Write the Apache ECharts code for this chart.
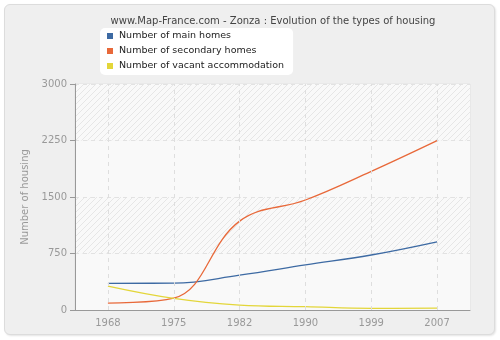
<!DOCTYPE html>
<html>
<head>
<meta charset="utf-8">
<script src="https://cdn.jsdelivr.net/npm/echarts@6/dist/echarts.min.js"></script>
<style>
html,body{margin:0;padding:0;background:#fff;}
#panel{position:absolute;left:4px;top:4px;width:489px;height:329px;background:#efefef;border:1px solid #dcdcdc;border-radius:6px;box-shadow:1px 1px 2px #e4e4e4;}
#c{position:absolute;left:0;top:0;width:500px;height:340px;}
</style>
</head>
<body>
<div id="panel"></div>
<div id="c"></div>
<script>
var titleText = 'www.Map-France.com - Zonza : Evolution of the types of housing';
var years = ['1968', '1975', '1982', '1990', '1999', '2007'];
var mainHomes = [354, 356, 462, 598, 730, 905];
var secondaryHomes = [92, 158, 1180, 1460, 1840, 2248];
var vacantHomes = [318, 155, 66, 44, 22, 24];
var yTicks = [0, 750, 1500, 2250, 3000];
var seriesNames = ['Number of main homes', 'Number of secondary homes', 'Number of vacant accommodation'];
var colors = ['#3d6aa3', '#e8693a', '#e3d63a'];

function hatch() {
  var cv = document.createElement('canvas');
  cv.width = 6; cv.height = 6;
  var ctx = cv.getContext('2d');
  ctx.fillStyle = '#f9f9f9';
  ctx.fillRect(0, 0, 6, 6);
  ctx.strokeStyle = '#e6e6e6';
  ctx.lineWidth = 1;
  ctx.beginPath();
  ctx.moveTo(-1, 7); ctx.lineTo(7, -1);
  ctx.moveTo(-1, 1); ctx.lineTo(1, -1);
  ctx.moveTo(5, 7); ctx.lineTo(7, 5);
  ctx.stroke();
  return cv;
}

var chart = echarts.init(document.getElementById('c'), null, {renderer: 'canvas'});
var font = 'DejaVu Sans';
chart.setOption({
  animation: false,
  backgroundColor: 'transparent',
  textStyle: {fontFamily: font},
  title: {
    text: titleText, left: 268, textAlign: 'center', top: 11,
    textStyle: {fontFamily: font, fontSize: 10, fontWeight: 'normal', color: '#444'}
  },
  legend: {
    orient: 'vertical', left: 100, top: 28,
    data: seriesNames,
    icon: 'rect', itemWidth: 6, itemHeight: 6, itemGap: 5,
    backgroundColor: '#fff', borderRadius: 5,
    padding: [3, 9, 4, 7],
    textStyle: {fontFamily: font, fontSize: 9.5, color: '#222', padding: [0, 0, 0, 1]}
  },
  grid: {left: 75, right: 30, top: 84, bottom: 30, show: true, borderColor: '#e2e2e2', borderWidth: 1, backgroundColor: 'transparent'},
  xAxis: {
    type: 'category', data: years, boundaryGap: true,
    axisLine: {lineStyle: {color: '#999'}},
    axisTick: {alignWithLabel: true, length: 5, lineStyle: {color: '#999'}},
    axisLabel: {color: '#999', fontFamily: font, fontSize: 10, margin: 8},
    splitLine: {show: false}
  },
  yAxis: {
    type: 'value', min: yTicks[0], max: yTicks[yTicks.length - 1], interval: yTicks[1] - yTicks[0],
    name: 'Number of housing', nameLocation: 'middle', nameGap: 44,
    nameTextStyle: {color: '#999', fontFamily: font, fontSize: 10},
    axisLine: {show: true, lineStyle: {color: '#999'}},
    axisTick: {show: true, length: 5, lineStyle: {color: '#999'}},
    axisLabel: {color: '#999', fontFamily: font, fontSize: 10, margin: 8, formatter: function (v) { return String(v); }},
    splitLine: {lineStyle: {color: '#e2e2e2', type: [4, 4], width: 1}},
    splitArea: {show: true, areaStyle: {color: ['#f9f9f9', {image: hatch(), repeat: 'repeat'}]}}
  },
  series: [
    {
      name: seriesNames[0], type: 'line', data: mainHomes, smooth: 0.4,
      symbol: 'none', lineStyle: {width: 1.3, color: colors[0]}, itemStyle: {color: colors[0]}, z: 3,
      markLine: {
        silent: true, symbol: 'none', label: {show: false},
        lineStyle: {color: '#dedede', type: [4, 4], width: 1},
        data: years.map(function (y) { return {xAxis: y}; })
      }
    },
    {
      name: seriesNames[1], type: 'line', data: secondaryHomes, smooth: 0.4,
      symbol: 'none', lineStyle: {width: 1.3, color: colors[1]}, itemStyle: {color: colors[1]}, z: 3
    },
    {
      name: seriesNames[2], type: 'line', data: vacantHomes, smooth: 0.4,
      symbol: 'none', lineStyle: {width: 1.3, color: colors[2]}, itemStyle: {color: colors[2]}, z: 3
    }
  ]
});
</script>
</body>
</html>
